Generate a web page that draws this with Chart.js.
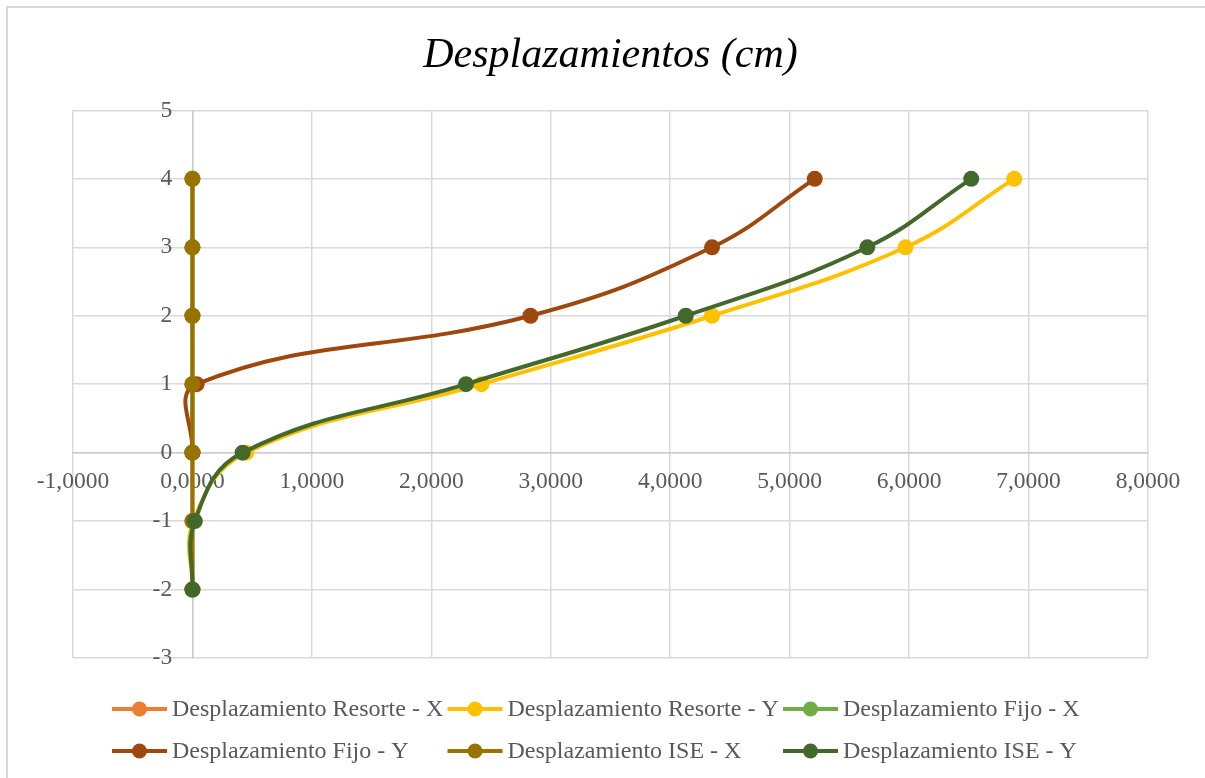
<!DOCTYPE html>
<html>
<head>
<meta charset="utf-8">
<title>Desplazamientos (cm)</title>
<script src="https://cdn.jsdelivr.net/npm/chart.js@4.4.1/dist/chart.umd.min.js"></script>
<style>
  html, body { margin: 0; padding: 0; background: #ffffff; overflow: hidden; }
  #wrap { position: relative; width: 1205px; height: 778px; }
  #frame { position: absolute; left: 6px; top: 6px; width: 1400px; height: 1000px;
           border: 2px solid #d9d9d9; box-sizing: border-box; }
  #c { position: absolute; left: 0; top: 0; }
</style>
</head>
<body>
<div id="wrap">
  <div id="frame"></div>
  <canvas id="c" width="1205" height="778"></canvas>
</div>
<script>
// Story levels (basement levels are negative)
const levelsAll = [-2, -1, 0, 1, 2, 3, 4];
const levelsFixed = [0, 1, 2, 3, 4];

// Displacements in cm for each model and direction
const resorteX = [0, 0, 0, 0, 0, 0, 0];
const resorteY = [0.00, 0.01, 0.45, 2.42, 4.35, 5.97, 6.88];
const fijoX = [0, 0, 0, 0, 0];
const fijoY = [0.00, 0.035, 2.83, 4.35, 5.21];
const iseX = [0, 0, 0, 0, 0, 0, 0];
const iseY = [0.00, 0.02, 0.42, 2.29, 4.13, 5.65, 6.52];

// Series names and colours
const seriesNames = [
  'Desplazamiento Resorte - X', 'Desplazamiento Resorte - Y', 'Desplazamiento Fijo - X',
  'Desplazamiento Fijo - Y', 'Desplazamiento ISE - X', 'Desplazamiento ISE - Y'
];
const seriesColors = ['#ED7D31', '#FFC000', '#70AD47', '#9E480E', '#997300', '#43682B'];

// Axis tick values and their labels
const xTickValues = [-1, 0, 1, 2, 3, 4, 5, 6, 7, 8];
const xTickLabels = ['-1,0000', '0,0000', '1,0000', '2,0000', '3,0000', '4,0000', '5,0000', '6,0000', '7,0000', '8,0000'];
const yTickValues = [-3, -2, -1, 0, 1, 2, 3, 4, 5];
const yTickLabels = ['-3', '-2', '-1', '0', '1', '2', '3', '4', '5'];

const seriesValues = [resorteX, resorteY, fijoX, fijoY, iseX, iseY];
const seriesLevels = [levelsAll, levelsAll, levelsFixed, levelsFixed, levelsAll, levelsAll];

const FONT = '"Liberation Serif", "Times New Roman", serif';
const TEXT_GREY = '#595959';
const GRID = '#d9d9d9';

const datasets = seriesValues.map((vals, i) => ({
  label: seriesNames[i],
  data: vals.map((v, k) => ({ x: v, y: seriesLevels[i][k] })),
  borderColor: seriesColors[i],
  backgroundColor: seriesColors[i],
  pointBackgroundColor: seriesColors[i],
  pointBorderColor: seriesColors[i],
  pointBorderWidth: 0,
  pointRadius: 8,
  pointHoverRadius: 8,
  borderWidth: 4,
  showLine: true,
  tension: 0.42,
  // later series are painted over earlier ones
  order: seriesValues.length - 1 - i
}));

// Legend laid out as a three-column grid under the plot
const gridLegend = {
  id: 'gridLegend',
  afterDraw(chart, args, opts) {
    const ctx = chart.ctx;
    chart.data.datasets.forEach((ds, i) => {
      const col = i % opts.columns;
      const row = Math.floor(i / opts.columns);
      const x = opts.left + col * opts.colWidth;
      const y = opts.top + row * opts.rowHeight;
      ctx.save();
      ctx.strokeStyle = ds.borderColor;
      ctx.lineWidth = 4;
      ctx.beginPath();
      ctx.moveTo(x, y);
      ctx.lineTo(x + opts.lineLength, y);
      ctx.stroke();
      ctx.fillStyle = ds.borderColor;
      ctx.beginPath();
      ctx.arc(x + opts.lineLength / 2, y, 7.5, 0, Math.PI * 2);
      ctx.fill();
      ctx.fillStyle = TEXT_GREY;
      ctx.font = opts.fontSize + 'px ' + FONT;
      ctx.textAlign = 'left';
      ctx.textBaseline = 'middle';
      ctx.fillText(ds.label, x + opts.lineLength + opts.gap, y + 1);
      ctx.restore();
    });
  }
};

new Chart(document.getElementById('c'), {
  type: 'scatter',
  data: { datasets },
  plugins: [gridLegend],
  options: {
    responsive: false,
    animation: false,
    devicePixelRatio: 1,
    layout: { padding: { left: 73, right: 57, top: 0, bottom: 120 } },
    plugins: {
      legend: { display: false },
      tooltip: { enabled: false },
      title: {
        display: true,
        text: 'Desplazamientos (cm)',
        color: '#000000',
        font: { family: FONT, size: 42, style: 'italic', weight: 'normal', lineHeight: 1.2 },
        padding: { top: 31, bottom: 29 }
      },
      gridLegend: {
        columns: 3, left: 112, top: 709, colWidth: 335.5, rowHeight: 42,
        lineLength: 55, gap: 5, fontSize: 24
      }
    },
    scales: {
      x: {
        type: 'linear',
        min: -1, max: 8,
        position: { y: 0 },
        afterBuildTicks: (s) => { s.ticks = xTickValues.map(v => ({ value: v })); },
        ticks: {
          autoSkip: false, maxRotation: 0, minRotation: 0,
          padding: 15,
          color: TEXT_GREY,
          font: { family: FONT, size: 23.5 },
          callback: (v) => xTickLabels[xTickValues.indexOf(v)]
        },
        grid: { color: GRID, lineWidth: 1.5, drawTicks: false },
        border: { color: '#cccccc', width: 1.5 }
      },
      y: {
        type: 'linear',
        min: -3, max: 5,
        position: { x: 0 },
        afterBuildTicks: (s) => { s.ticks = yTickValues.map(v => ({ value: v })); },
        ticks: { display: false },
        grid: { color: GRID, lineWidth: 1.5, drawTicks: false },
        border: { color: '#cccccc', width: 1.5 }
      },
      // labels of the vertical axis, set just left of the x = 0 line
      yLabels: {
        type: 'linear',
        axis: 'y',
        min: -3, max: 5,
        position: { x: -0.17 },
        afterBuildTicks: (s) => { s.ticks = yTickValues.map(v => ({ value: v })); },
        ticks: {
          autoSkip: false, padding: 0,
          color: TEXT_GREY,
          font: { family: FONT, size: 23.5 },
          callback: (v) => yTickLabels[yTickValues.indexOf(v)]
        },
        grid: { display: false, drawTicks: false },
        border: { display: false }
      }
    }
  }
});
</script>
</body>
</html>
